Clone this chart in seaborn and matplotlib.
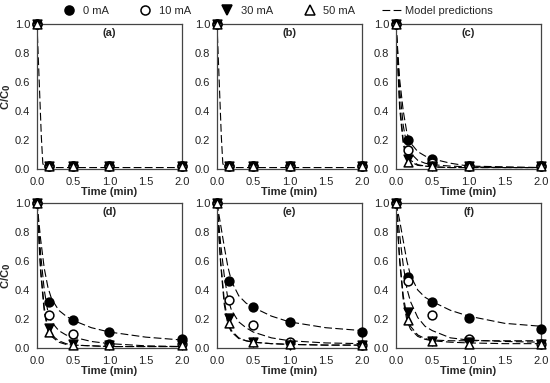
import numpy as np
import pandas as pd
import seaborn as sns
import matplotlib
matplotlib.use("Agg")
import matplotlib.pyplot as plt
from matplotlib.lines import Line2D

# measured points
t_obs = [0.0, 0.167, 0.5, 1.0, 2.0]
currents = ["0 mA", "10 mA", "30 mA", "50 mA"]
panels = ["(a)", "(b)", "(c)", "(d)", "(e)", "(f)"]

obs = {
    "(a)": [[1.0, 0.02, 0.02, 0.02, 0.02],
            [1.0, 0.02, 0.02, 0.02, 0.02],
            [1.0, 0.02, 0.02, 0.02, 0.02],
            [1.0, 0.02, 0.02, 0.02, 0.02]],
    "(b)": [[1.0, 0.02, 0.02, 0.02, 0.02],
            [1.0, 0.02, 0.02, 0.02, 0.02],
            [1.0, 0.02, 0.02, 0.02, 0.02],
            [1.0, 0.02, 0.02, 0.02, 0.02]],
    "(c)": [[1.0, 0.20, 0.07, 0.02, 0.02],
            [1.0, 0.13, 0.04, 0.02, 0.02],
            [1.0, 0.07, 0.02, 0.02, 0.02],
            [1.0, 0.05, 0.02, 0.02, 0.02]],
    "(d)": [[1.0, 0.32, 0.19, 0.11, 0.06],
            [1.0, 0.23, 0.10, 0.03, 0.03],
            [1.0, 0.14, 0.03, 0.02, 0.02],
            [1.0, 0.11, 0.02, 0.02, 0.02]],
    "(e)": [[1.0, 0.46, 0.28, 0.18, 0.11],
            [1.0, 0.33, 0.16, 0.04, 0.02],
            [1.0, 0.21, 0.04, 0.02, 0.02],
            [1.0, 0.17, 0.04, 0.03, 0.02]],
    "(f)": [[1.0, 0.49, 0.32, 0.21, 0.13],
            [1.0, 0.46, 0.23, 0.06, 0.03],
            [1.0, 0.25, 0.05, 0.04, 0.03],
            [1.0, 0.19, 0.05, 0.03, 0.03]],
}

# model curves
t_mod = [0.0, 0.05, 0.1, 0.15, 0.2, 0.3, 0.4, 0.5, 0.75, 1.0, 1.5, 2.0]
t_mod_fast = [0.0, 0.02, 0.04, 0.06, 0.08, 0.1, 2.0]
mod_fast = [1.0, 0.74, 0.48, 0.22, 0.04, 0.01, 0.01]

mod = {
    "(c)": [[1.0, 0.62, 0.40, 0.25, 0.18, 0.12, 0.09, 0.07, 0.04, 0.02, 0.015, 0.01],
            [1.0, 0.55, 0.30, 0.16, 0.11, 0.06, 0.04, 0.03, 0.02, 0.015, 0.01, 0.01],
            [1.0, 0.45, 0.20, 0.09, 0.06, 0.03, 0.02, 0.015, 0.01, 0.01, 0.01, 0.01],
            [1.0, 0.42, 0.17, 0.07, 0.05, 0.025, 0.02, 0.015, 0.01, 0.01, 0.01, 0.01]],
    "(d)": [[1.0, 0.75, 0.55, 0.42, 0.34, 0.26, 0.22, 0.19, 0.14, 0.11, 0.075, 0.055],
            [1.0, 0.65, 0.40, 0.25, 0.18, 0.12, 0.09, 0.075, 0.045, 0.03, 0.015, 0.01],
            [1.0, 0.55, 0.28, 0.14, 0.09, 0.05, 0.03, 0.02, 0.015, 0.01, 0.01, 0.01],
            [1.0, 0.52, 0.25, 0.12, 0.08, 0.04, 0.025, 0.02, 0.015, 0.01, 0.01, 0.01]],
    "(e)": [[1.0, 0.85, 0.70, 0.56, 0.46, 0.36, 0.31, 0.28, 0.22, 0.18, 0.14, 0.12],
            [1.0, 0.72, 0.50, 0.34, 0.26, 0.18, 0.14, 0.11, 0.07, 0.05, 0.035, 0.03],
            [1.0, 0.60, 0.33, 0.18, 0.12, 0.07, 0.05, 0.04, 0.03, 0.025, 0.02, 0.02],
            [1.0, 0.58, 0.30, 0.16, 0.11, 0.065, 0.05, 0.04, 0.03, 0.025, 0.02, 0.02]],
    "(f)": [[1.0, 0.88, 0.74, 0.60, 0.50, 0.40, 0.35, 0.32, 0.26, 0.22, 0.17, 0.15],
            [1.0, 0.78, 0.57, 0.41, 0.32, 0.21, 0.15, 0.12, 0.07, 0.055, 0.045, 0.04],
            [1.0, 0.62, 0.36, 0.22, 0.15, 0.09, 0.065, 0.055, 0.05, 0.05, 0.05, 0.05],
            [1.0, 0.60, 0.33, 0.19, 0.13, 0.08, 0.06, 0.05, 0.04, 0.035, 0.03, 0.03]],
}

sns.set_style("white")
plt.rcParams['font.family'] = ['Liberation Sans', 'DejaVu Sans']
plt.rcParams['font.size'] = 8

mk = {"0 mA": "o", "10 mA": "o", "30 mA": "v", "50 mA": "^"}
fc = {"0 mA": "black", "10 mA": "white", "30 mA": "black", "50 mA": "white"}

rows = []
for p in panels:
    for ci, c in enumerate(currents):
        for t, v in zip(t_obs, obs[p][ci]):
            rows.append((p, c, t, v))
df_obs = pd.DataFrame(rows, columns=["panel", "current", "t", "c"])

rows = []
for p in panels:
    for ci, c in enumerate(currents):
        if p in mod:
            for t, v in zip(t_mod, mod[p][ci]):
                rows.append((p, c, t, v))
        elif ci == 0:
            for t, v in zip(t_mod_fast, mod_fast):
                rows.append((p, c, t, v))
df_mod = pd.DataFrame(rows, columns=["panel", "current", "t", "c"])

fig = plt.figure(figsize=(5.5, 3.83), dpi=100)
W, H = 550.0, 383.0
lefts = [37, 217, 396]
tops = [24, 203]
aw, ah = 145, 145

for i, p in enumerate(panels):
    r, col = divmod(i, 3)
    ax = fig.add_axes([lefts[col] / W, 1 - (tops[r] + ah) / H, aw / W, ah / H])
    sub = df_mod[df_mod.panel == p]
    sns.lineplot(data=sub, x="t", y="c", units="current", estimator=None, ax=ax,
                 color="black", lw=0.8, dashes=False, linestyle=(0, (7, 3)),
                 sort=False, legend=False)
    for c in currents:
        s = df_obs[(df_obs.panel == p) & (df_obs.current == c)]
        sns.scatterplot(data=s, x="t", y="c", ax=ax, marker=mk[c], color=fc[c],
                        edgecolor="black", linewidth=1.1, s=40, zorder=3,
                        clip_on=False, legend=False)
    ax.set_xlim(0, 2)
    ax.set_ylim(0, 1)
    ax.set_xticks([0, 0.5, 1.0, 1.5, 2.0])
    ax.set_yticks([0, 0.2, 0.4, 0.6, 0.8, 1.0])
    ax.set_xticklabels(["0.0", "0.5", "1.0", "1.5", "2.0"])
    ax.set_yticklabels(["0.0", "0.2", "0.4", "0.6", "0.8", "1.0"])
    ax.tick_params(direction="in", length=2, width=0.6, labelsize=8, colors="#222222")
    ax.tick_params(axis="x", pad=6)
    ax.tick_params(axis="y", pad=5)
    for sp in ax.spines.values():
        sp.set_color("#444444")
        sp.set_linewidth(0.9)
    ax.set_xlabel("Time (min)", fontweight="bold", fontsize=8, labelpad=0)
    if col == 0:
        ax.set_ylabel("C/C$_\\mathbf{0}$", fontweight="bold", fontsize=8)
        ax.yaxis.set_label_coords(-0.165, 0.5)
    else:
        ax.set_ylabel("")
    ax.text(0.5, 0.935, p, transform=ax.transAxes, ha="center", va="center",
            fontweight="bold", fontsize=8)

handles = [Line2D([], [], ls="", marker=mk[c], markerfacecolor=fc[c], markeredgecolor="black",
                  markeredgewidth=1.1, markersize=6.5, color="black") for c in currents]
handles.append(Line2D([], [], ls=(0, (7, 3)), color="black", lw=0.8))
fig.legend(handles, currents + ["Model predictions"], loc="center", ncol=5,
           bbox_to_anchor=(276 / W, 1 - 11 / H), frameon=False, fontsize=8,
           handlelength=1.8, columnspacing=2.4, handletextpad=0.3)

fig.savefig("out.png", dpi=100)
